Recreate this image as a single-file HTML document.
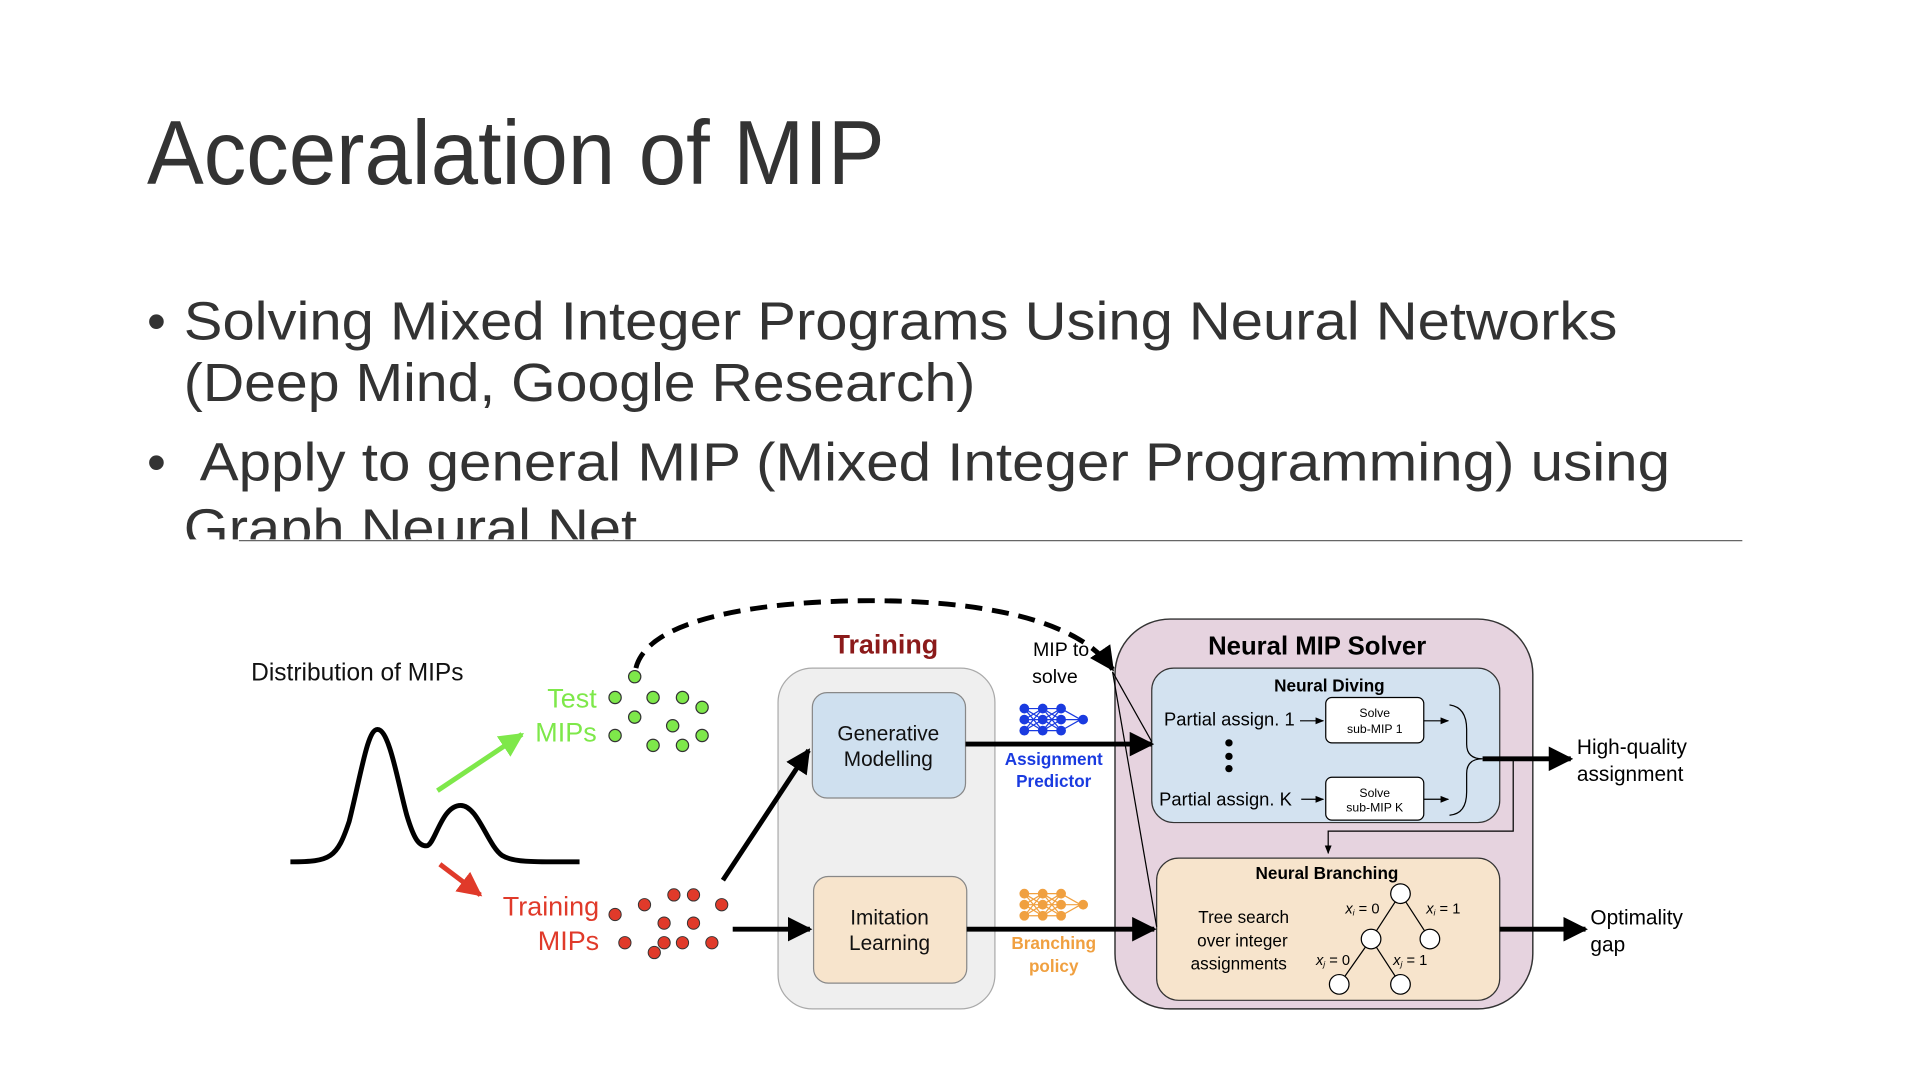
<!DOCTYPE html>
<html><head><meta charset="utf-8"><style>
html,body{margin:0;padding:0;background:#fff;width:1920px;height:1080px;overflow:hidden}
svg{display:block}
text{font-family:"Liberation Sans","DejaVu Sans",sans-serif}
</style></head><body>
<svg width="1920" height="1080" viewBox="0 0 1567 881" preserveAspectRatio="none">
<defs>
<marker id="ah" viewBox="0 0 10 10" refX="9" refY="5" markerWidth="5" markerHeight="5" orient="auto"><path d="M0,0L10,5L0,10z" fill="#000"/></marker>
<marker id="ahs" viewBox="0 0 10 10" refX="9" refY="5" markerWidth="7" markerHeight="7" orient="auto"><path d="M0,1L10,5L0,9z" fill="#000"/></marker>
<marker id="ahg" viewBox="0 0 10 10" refX="9" refY="5" markerWidth="5" markerHeight="5" orient="auto"><path d="M0,0L10,5L0,10z" fill="#7ee84a"/></marker>
<marker id="ahr" viewBox="0 0 10 10" refX="9" refY="5" markerWidth="5" markerHeight="5" orient="auto"><path d="M0,0L10,5L0,10z" fill="#e03a2a"/></marker>
<clipPath id="cl"><rect x="0" y="0" width="1552" height="440"/></clipPath>
</defs>
<text x="120" y="150" font-size="74" fill="#333" textLength="602" lengthAdjust="spacingAndGlyphs" font-weight="300">Acceralation of MIP</text>
<g clip-path="url(#cl)" fill="#333" font-size="44">
<text x="120" y="277">•</text>
<text x="150" y="277" textLength="1170" lengthAdjust="spacingAndGlyphs">Solving Mixed Integer Programs Using Neural Networks</text>
<text x="150" y="327" textLength="646" lengthAdjust="spacingAndGlyphs">(Deep Mind, Google Research)</text>
<text x="120" y="392">•</text>
<text x="163" y="392" textLength="1200" lengthAdjust="spacingAndGlyphs">Apply to general MIP (Mixed Integer Programming) using</text>
<text x="150" y="446" textLength="370" lengthAdjust="spacingAndGlyphs">Graph Neural Net</text>
</g>
<line x1="195" y1="441" x2="1422" y2="441" stroke="#666" stroke-width="1"/>

<!-- left -->
<text x="205" y="555" font-size="20" fill="#111">Distribution of MIPs</text>
<path d="M237,703 C270,703 275,700 285,670 C295,630 300,595 308,595 C318,595 325,640 332,665 C338,685 342,690 348,690 C355,690 360,657 376,657 C390,657 398,690 410,698 C420,704 440,703 473,703" fill="none" stroke="#000" stroke-width="4"/>
<line x1="357" y1="645" x2="426" y2="599" stroke="#7ee84a" stroke-width="4" marker-end="url(#ahg)"/>
<line x1="359" y1="705" x2="392" y2="730" stroke="#e03a2a" stroke-width="4" marker-end="url(#ahr)"/>
<text x="487" y="577" font-size="22" fill="#7ee84a" text-anchor="end">Test</text>
<text x="487" y="605" font-size="22" fill="#7ee84a" text-anchor="end">MIPs</text>
<text x="489" y="747" font-size="22" fill="#e03a2a" text-anchor="end">Training</text>
<text x="489" y="775" font-size="22" fill="#e03a2a" text-anchor="end">MIPs</text>
<g fill="#7ee84a" stroke="#333" stroke-width="1">
<circle cx="518" cy="552" r="5"/><circle cx="502" cy="569" r="5"/><circle cx="533" cy="569" r="5"/><circle cx="557" cy="569" r="5"/><circle cx="573" cy="577" r="5"/><circle cx="518" cy="585" r="5"/><circle cx="549" cy="592" r="5"/><circle cx="502" cy="600" r="5"/><circle cx="533" cy="608" r="5"/><circle cx="557" cy="608" r="5"/><circle cx="573" cy="600" r="5"/>
</g>
<g fill="#e03a2a" stroke="#333" stroke-width="0.8">
<circle cx="550" cy="730" r="5"/><circle cx="566" cy="730" r="5"/><circle cx="526" cy="738" r="5"/><circle cx="589" cy="738" r="5"/><circle cx="502" cy="746" r="5"/><circle cx="542" cy="753" r="5"/><circle cx="566" cy="753" r="5"/><circle cx="510" cy="769" r="5"/><circle cx="542" cy="769" r="5"/><circle cx="557" cy="769" r="5"/><circle cx="581" cy="769" r="5"/><circle cx="534" cy="777" r="5"/>
</g>

<!-- training -->
<rect x="635" y="545" width="177" height="278" rx="28" fill="#efefef" stroke="#aaa"/>
<text x="723" y="533" font-size="22" font-weight="bold" fill="#8b1a1a" text-anchor="middle">Training</text>
<rect x="663" y="565" width="125" height="86" rx="12" fill="#cfe0ef" stroke="#888"/>
<text x="725" y="604" font-size="17" text-anchor="middle" fill="#111">Generative</text>
<text x="725" y="625" font-size="17" text-anchor="middle" fill="#111">Modelling</text>
<rect x="664" y="715" width="125" height="87" rx="12" fill="#f7e4cc" stroke="#888"/>
<text x="726" y="754" font-size="17" text-anchor="middle" fill="#111">Imitation</text>
<text x="726" y="775" font-size="17" text-anchor="middle" fill="#111">Learning</text>
<line x1="590" y1="718" x2="660" y2="612" stroke="#000" stroke-width="4" marker-end="url(#ah)"/>
<line x1="598" y1="758" x2="661" y2="758" stroke="#000" stroke-width="4" marker-end="url(#ah)"/>
<text x="866" y="535" font-size="16" text-anchor="middle">MIP to</text>
<text x="861" y="557" font-size="16" text-anchor="middle">solve</text>
<g stroke="#1a3be0" stroke-width="1" fill="#1a3be0">
<path d="M836,578L851,578L866,578M836,587L851,587L866,587L882,587M836,596L851,596L866,596M836,578L851,587L866,578M836,587L851,578L866,587M836,596L851,587L866,596M836,587L851,596L866,587M836,578L851,596L866,578M836,596L851,578L866,596M866,578L882,587M866,596L882,587" fill="none"/>
<circle cx="836" cy="578" r="3.5"/><circle cx="836" cy="587" r="3.5"/><circle cx="836" cy="596" r="3.5"/>
<circle cx="851" cy="578" r="3.5"/><circle cx="851" cy="587" r="3.5"/><circle cx="851" cy="596" r="3.5"/>
<circle cx="866" cy="578" r="3.5"/><circle cx="866" cy="587" r="3.5"/><circle cx="866" cy="596" r="3.5"/>
<circle cx="884" cy="587" r="3.5"/>
</g>
<g stroke="#f0a040" stroke-width="1" fill="#f0a040" transform="translate(0,151)">
<path d="M836,578L851,578L866,578M836,587L851,587L866,587L882,587M836,596L851,596L866,596M836,578L851,587L866,578M836,587L851,578L866,587M836,596L851,587L866,596M836,587L851,596L866,587M836,578L851,596L866,578M836,596L851,578L866,596M866,578L882,587M866,596L882,587" fill="none"/>
<circle cx="836" cy="578" r="3.5"/><circle cx="836" cy="587" r="3.5"/><circle cx="836" cy="596" r="3.5"/>
<circle cx="851" cy="578" r="3.5"/><circle cx="851" cy="587" r="3.5"/><circle cx="851" cy="596" r="3.5"/>
<circle cx="866" cy="578" r="3.5"/><circle cx="866" cy="587" r="3.5"/><circle cx="866" cy="596" r="3.5"/>
<circle cx="884" cy="587" r="3.5"/>
</g>
<text x="860" y="624" font-size="14" font-weight="bold" fill="#1a3be0" text-anchor="middle">Assignment</text>
<text x="860" y="642" font-size="14" font-weight="bold" fill="#1a3be0" text-anchor="middle">Predictor</text>
<text x="860" y="774" font-size="14" font-weight="bold" fill="#f0a040" text-anchor="middle">Branching</text>
<text x="860" y="793" font-size="14" font-weight="bold" fill="#f0a040" text-anchor="middle">policy</text>

<!-- solver -->
<rect x="910" y="505" width="341" height="318" rx="45" fill="#e6d3df" stroke="#333" stroke-width="1.2"/>
<text x="1075" y="534" font-size="21" font-weight="bold" text-anchor="middle">Neural MIP Solver</text>
<rect x="940" y="545" width="284" height="126" rx="18" fill="#d3e2f0" stroke="#333"/>
<text x="1085" y="564" font-size="14" font-weight="bold" text-anchor="middle">Neural Diving</text>
<text x="950" y="592" font-size="15">Partial assign. 1</text>
<text x="946" y="657" font-size="15">Partial assign. K</text>
<line x1="1061" y1="588" x2="1080" y2="588" stroke="#000" marker-end="url(#ahs)"/>
<line x1="1062" y1="652" x2="1080" y2="652" stroke="#000" marker-end="url(#ahs)"/>
<rect x="1082" y="569" width="80" height="37" rx="5" fill="#fff" stroke="#000"/>
<text x="1122" y="585" font-size="10" text-anchor="middle">Solve</text>
<text x="1122" y="598" font-size="10" text-anchor="middle">sub-MIP 1</text>
<rect x="1082" y="634" width="80" height="35" rx="5" fill="#fff" stroke="#000"/>
<text x="1122" y="650" font-size="10" text-anchor="middle">Solve</text>
<text x="1122" y="662" font-size="10" text-anchor="middle">sub-MIP K</text>
<line x1="1162" y1="588" x2="1182" y2="588" stroke="#000" marker-end="url(#ahs)"/>
<line x1="1162" y1="652" x2="1182" y2="652" stroke="#000" marker-end="url(#ahs)"/>
<circle cx="1003" cy="606" r="3"/><circle cx="1003" cy="617" r="3"/><circle cx="1003" cy="627" r="3"/>
<path d="M1183,575 Q1197,577 1197,595 L1197,607 Q1197,619 1210,619 Q1197,619 1197,631 L1197,646 Q1197,664 1183,665" fill="none" stroke="#000"/>
<line x1="1210" y1="619" x2="1282" y2="619" stroke="#000" stroke-width="4" marker-end="url(#ah)"/>
<path d="M1235,619 L1235,678 L1084,678 L1084,696" fill="none" stroke="#000" marker-end="url(#ahs)"/>
<rect x="944" y="700" width="280" height="116" rx="18" fill="#f7e4cc" stroke="#333"/>
<text x="1083" y="717" font-size="14" font-weight="bold" text-anchor="middle">Neural Branching</text>
<text x="1015" y="753" font-size="14" text-anchor="middle">Tree search</text>
<text x="1014" y="772" font-size="14" text-anchor="middle">over integer</text>
<text x="1011" y="791" font-size="14" text-anchor="middle">assignments</text>
<g stroke="#000" fill="#fff">
<path d="M1143,729L1119,766M1143,729L1167,766M1119,766L1093,803M1119,766L1143,803" />
<circle cx="1143" cy="729" r="8"/><circle cx="1119" cy="766" r="8"/><circle cx="1167" cy="766" r="8"/><circle cx="1093" cy="803" r="8"/><circle cx="1143" cy="803" r="8"/>
</g>
<g font-size="12" font-style="italic">
<text x="1098" y="745" font-family="Liberation Serif">x<tspan font-size="7" dy="2">i</tspan><tspan dy="-2" font-style="normal"> = 0</tspan></text>
<text x="1164" y="745" font-family="Liberation Serif">x<tspan font-size="7" dy="2">i</tspan><tspan dy="-2" font-style="normal"> = 1</tspan></text>
<text x="1074" y="787" font-family="Liberation Serif">x<tspan font-size="7" dy="2">j</tspan><tspan dy="-2" font-style="normal"> = 0</tspan></text>
<text x="1137" y="787" font-family="Liberation Serif">x<tspan font-size="7" dy="2">j</tspan><tspan dy="-2" font-style="normal"> = 1</tspan></text>
</g>
<line x1="1224" y1="758" x2="1294" y2="758" stroke="#000" stroke-width="4" marker-end="url(#ah)"/>
<line x1="908" y1="548" x2="940" y2="605" stroke="#000" stroke-width="1"/>
<line x1="908" y1="548" x2="944" y2="756" stroke="#000" stroke-width="1"/>
<text x="1287" y="615" font-size="17">High-quality</text>
<text x="1287" y="637" font-size="17">assignment</text>
<text x="1298" y="754" font-size="17">Optimality</text>
<text x="1298" y="776" font-size="17">gap</text>

<!-- arrows drawn on top -->
<line x1="788" y1="607" x2="940" y2="607" stroke="#000" stroke-width="4" marker-end="url(#ah)"/>
<line x1="789" y1="758" x2="942" y2="758" stroke="#000" stroke-width="4" marker-end="url(#ah)"/>
<path d="M519,545 C530,500 640,490 710,490 C800,490 880,505 908,546" fill="none" stroke="#000" stroke-width="4" stroke-dasharray="14,8" marker-end="url(#ah)"/>
</svg>
</body></html>
